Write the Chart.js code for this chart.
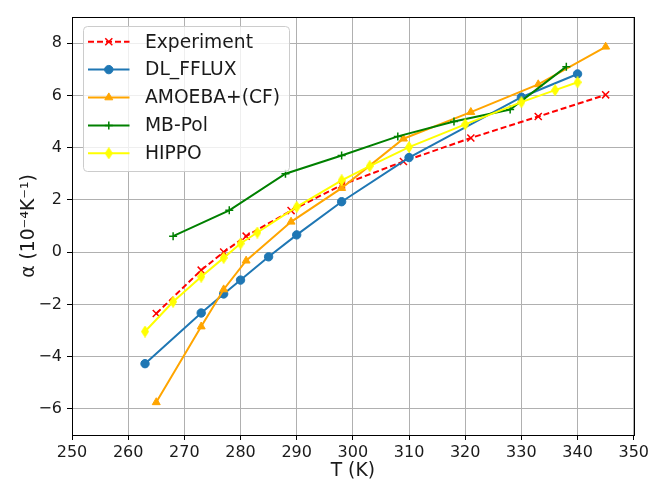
<!DOCTYPE html>
<html><head><meta charset="utf-8">
<script src="https://cdn.jsdelivr.net/npm/chart.js@4/dist/chart.umd.min.js"></script>
<style>html,body{margin:0;padding:0;background:#fff}#wrap{width:652px;height:480px}</style>
</head><body><div id="wrap"><canvas id="c" width="652" height="480"></canvas></div>
<script>
// ---- data ----
const seriesNames = ['Experiment', 'DL_FFLUX', 'AMOEBA+(CF)', 'MB-Pol', 'HIPPO'];
const expT = [265, 273, 277, 281, 289, 298, 309, 321, 333, 345];
const expA = [-2.35, -0.69, 0.0, 0.61, 1.59, 2.57, 3.47, 4.37, 5.19, 6.02];
const dlT = [263, 273, 277, 280, 285, 290, 298, 310, 330, 340];
const dlA = [-4.27, -2.33, -1.6, -1.07, -0.18, 0.66, 1.93, 3.62, 5.93, 6.82];
const amT = [265, 273, 277, 281, 289, 298, 309, 321, 333, 345];
const amA = [-5.75, -2.85, -1.43, -0.33, 1.16, 2.45, 4.34, 5.36, 6.42, 7.86];
const mbT = [268, 278, 288, 298, 308, 318, 328, 338];
const mbA = [0.61, 1.6, 3.0, 3.7, 4.43, 5.0, 5.46, 7.1];
const hiT = [263, 268, 273, 277, 280, 283, 290, 298, 303, 310, 320, 330, 336, 340];
const hiA = [-3.04, -1.9, -0.94, -0.22, 0.33, 0.75, 1.73, 2.75, 3.29, 4.02, 4.89, 5.74, 6.2, 6.5];
const xTicks = [250, 260, 270, 280, 290, 300, 310, 320, 330, 340, 350];
const yTicks = [-6, -4, -2, 0, 2, 4, 6, 8];
const xTitle = 'T (K)';
const yTitle = 'α (10⁻⁴K⁻¹)';

const FONT = "'DejaVu Sans', sans-serif";
const TXT = '#1a1a1a';

function thinDiamond(color) {
  const c = document.createElement('canvas');
  c.width = 8; c.height = 12;
  const g = c.getContext('2d');
  g.beginPath();
  g.moveTo(4, 0.5); g.lineTo(7.5, 6); g.lineTo(4, 11.5); g.lineTo(0.5, 6);
  g.closePath();
  g.fillStyle = color; g.fill();
  g.strokeStyle = color; g.lineWidth = 1; g.stroke();
  return c;
}
const diamondImg = thinDiamond('#ffff00');

function pts(xs, ys) { return xs.map((x, i) => ({x: x, y: ys[i]})); }

const datasets = [
  {label: seriesNames[0], data: pts(expT, expA), borderColor: '#ff0000', backgroundColor: '#ff0000',
   borderDash: [6, 3], pointStyle: 'crossRot', pointRadius: 5, pointBorderWidth: 1.5, order: 5},
  {label: seriesNames[1], data: pts(dlT, dlA), borderColor: '#1f77b4', backgroundColor: '#1f77b4',
   pointStyle: 'circle', pointRadius: 4.2, pointBorderWidth: 1, order: 4},
  {label: seriesNames[2], data: pts(amT, amA), borderColor: '#ffa500', backgroundColor: '#ffa500',
   pointStyle: 'triangle', pointRadius: 4.6, pointBorderWidth: 1, order: 3},
  {label: seriesNames[3], data: pts(mbT, mbA), borderColor: '#008000', backgroundColor: '#008000',
   pointStyle: 'cross', pointRadius: 4, pointBorderWidth: 1.5, order: 2},
  {label: seriesNames[4], data: pts(hiT, hiA), borderColor: '#ffff00', backgroundColor: '#ffff00',
   pointStyle: diamondImg, pointRadius: 5, pointBorderWidth: 1, order: 1}
];
datasets.forEach(d => {
  d.showLine = true; d.fill = false; d.tension = 0; d.borderWidth = 2;
  d.pointBackgroundColor = d.backgroundColor; d.pointBorderColor = d.borderColor;
  d.pointHoverRadius = d.pointRadius;
});

function drawMarker(ctx, ds, x, y) {
  ctx.save();
  ctx.fillStyle = ds.backgroundColor; ctx.strokeStyle = ds.borderColor;
  ctx.lineWidth = ds.pointBorderWidth; ctx.setLineDash([]);
  const r = ds.pointRadius, s = ds.pointStyle;
  ctx.beginPath();
  if (s === 'circle') { ctx.arc(x, y, r, 0, Math.PI * 2); ctx.fill(); ctx.stroke(); }
  else if (s === 'triangle') {
    const h = r * 1.5, w = r * Math.sqrt(3) / 2 * 2;
    ctx.moveTo(x, y - r); ctx.lineTo(x + w / 2, y + r / 2); ctx.lineTo(x - w / 2, y + r / 2); ctx.closePath();
    ctx.fill(); ctx.stroke();
  } else if (s === 'crossRot') {
    const d = r * Math.SQRT1_2;
    ctx.moveTo(x - d, y - d); ctx.lineTo(x + d, y + d); ctx.moveTo(x + d, y - d); ctx.lineTo(x - d, y + d); ctx.stroke();
  } else if (s === 'cross') {
    ctx.moveTo(x - r, y); ctx.lineTo(x + r, y); ctx.moveTo(x, y - r); ctx.lineTo(x, y + r); ctx.stroke();
  } else if (s && s.width) {
    ctx.drawImage(s, x - s.width / 2, y - s.height / 2);
  }
  ctx.restore();
}

const framePlugin = {
  id: 'frameAndLegend',
  afterDraw(chart) {
    const ctx = chart.ctx, a = chart.chartArea;
    ctx.save();
    // axes frame
    ctx.strokeStyle = '#000'; ctx.lineWidth = 1; ctx.setLineDash([]);
    ctx.strokeRect(Math.round(a.left) + 0.5, Math.round(a.top) + 0.5,
      Math.round(a.right) - Math.round(a.left), Math.round(a.bottom) - Math.round(a.top));
    // legend
    const x0 = 83.5, y0 = 26.5, w = 206, h = 145, r = 4;
    ctx.beginPath();
    ctx.moveTo(x0 + r, y0); ctx.lineTo(x0 + w - r, y0); ctx.quadraticCurveTo(x0 + w, y0, x0 + w, y0 + r);
    ctx.lineTo(x0 + w, y0 + h - r); ctx.quadraticCurveTo(x0 + w, y0 + h, x0 + w - r, y0 + h);
    ctx.lineTo(x0 + r, y0 + h); ctx.quadraticCurveTo(x0, y0 + h, x0, y0 + h - r);
    ctx.lineTo(x0, y0 + r); ctx.quadraticCurveTo(x0, y0, x0 + r, y0); ctx.closePath();
    ctx.fillStyle = 'rgba(255,255,255,0.8)'; ctx.fill();
    ctx.strokeStyle = '#cccccc'; ctx.stroke();
    chart.data.datasets.forEach((ds, i) => {
      const y = 41.7 + i * 27.9;
      ctx.save();
      ctx.strokeStyle = ds.borderColor; ctx.lineWidth = ds.borderWidth;
      ctx.setLineDash(ds.borderDash || []);
      ctx.beginPath(); ctx.moveTo(88, y); ctx.lineTo(129.5, y); ctx.stroke();
      ctx.restore();
      drawMarker(ctx, ds, 108.8, y);
      ctx.fillStyle = TXT; ctx.font = '18.7px ' + FONT; ctx.textBaseline = 'middle'; ctx.textAlign = 'left';
      ctx.fillText(ds.label, 145, y + 1);
    });
    ctx.restore();
  }
};

function fmt(v) { return String(v).replace('-', '\u2212'); }

new Chart(document.getElementById('c'), {
  type: 'scatter',
  data: {datasets: datasets},
  options: {
    responsive: false, animation: false, devicePixelRatio: 1,
    layout: {padding: {top: 17, right: 15, left: 0, bottom: 0}},
    plugins: {legend: {display: false}, tooltip: {enabled: false}},
    scales: {
      x: {
        type: 'linear', min: 250, max: 350,
        afterBuildTicks: s => { s.ticks = xTicks.map(v => ({value: v})); },
        afterFit: s => { s.height = 45; },
        ticks: {font: {family: FONT, size: 16}, color: TXT, padding: 3, maxRotation: 0, callback: v => fmt(v)},
        grid: {color: '#b0b0b0', lineWidth: 1, tickColor: '#000', tickLength: 5, drawOnChartArea: true},
        border: {display: false},
        title: {display: true, text: xTitle, font: {family: FONT, size: 18.7, lineHeight: 1}, color: TXT, padding: {top: 0, bottom: 0}}
      },
      y: {
        type: 'linear', min: -7, max: 9,
        afterBuildTicks: s => { s.ticks = yTicks.map(v => ({value: v})); },
        afterFit: s => { s.width = 72; },
        ticks: {font: {family: FONT, size: 16}, color: TXT, padding: 5, callback: v => fmt(v)},
        grid: {color: '#b0b0b0', lineWidth: 1, tickColor: '#000', tickLength: 5},
        border: {display: false},
        title: {display: true, text: yTitle, font: {family: FONT, size: 18.7, lineHeight: 1}, color: TXT, padding: {top: 20, bottom: 0}}
      }
    }
  },
  plugins: [framePlugin]
});
</script>
</body></html>
